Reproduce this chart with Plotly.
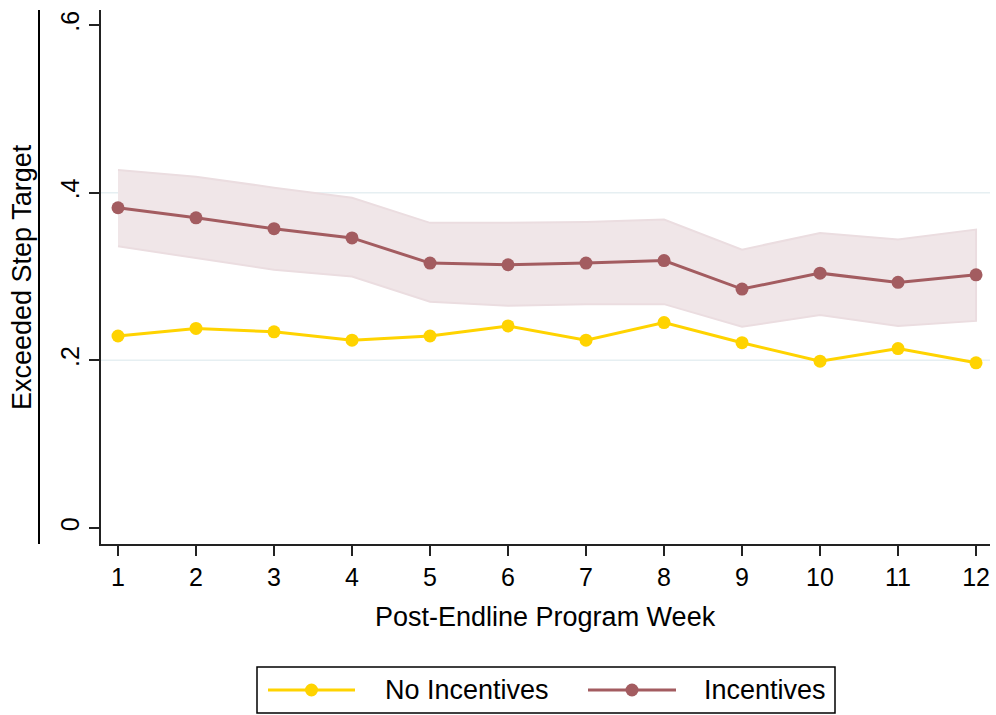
import plotly.graph_objects as go

# Weekly share of participants who exceeded their step target
weeks = list(range(1, 13))
no_incentives = [0.229, 0.238, 0.234, 0.224, 0.229, 0.241, 0.224, 0.245, 0.221, 0.199, 0.214, 0.197]
incentives = [0.382, 0.370, 0.357, 0.346, 0.316, 0.314, 0.316, 0.319, 0.285, 0.304, 0.293, 0.302]
inc_upper = [0.427, 0.419, 0.406, 0.394, 0.364, 0.364, 0.365, 0.368, 0.332, 0.352, 0.344, 0.356]
inc_lower = [0.336, 0.322, 0.308, 0.300, 0.270, 0.265, 0.267, 0.267, 0.240, 0.254, 0.241, 0.247]

y_ticks = [0, 0.2, 0.4, 0.6]
y_ticktext = ["0", ".2", ".4", ".6"]
series_names = ["No Incentives", "Incentives"]

YELLOW = "#ffd300"
MAROON = "#a35c60"
BAND_FILL = "#f0e6e8"
BAND_EDGE = "#ebdde0"
GRID = "#e6eff2"
FONT = "Liberation Sans, Arial, sans-serif"

W, H = 996, 715
L, R, T, B = 101, 6, 10, 171
PW, PH = W - L - R, H - T - B


def px(x):
    return (x - L) / PW


def py(y):
    return (H - B - y) / PH


fig = go.Figure()

# confidence band for the incentives group
fig.add_trace(go.Scatter(
    x=weeks + weeks[::-1],
    y=inc_upper + inc_lower[::-1],
    fill="toself", fillcolor=BAND_FILL,
    line=dict(color=BAND_EDGE, width=2),
    mode="lines", hoverinfo="skip", showlegend=False,
))

fig.add_trace(go.Scatter(
    x=weeks, y=no_incentives, name=series_names[0], mode="lines+markers",
    line=dict(color=YELLOW, width=3), marker=dict(color=YELLOW, size=13),
    showlegend=False,
))
fig.add_trace(go.Scatter(
    x=weeks, y=incentives, name=series_names[1], mode="lines+markers",
    line=dict(color=MAROON, width=3), marker=dict(color=MAROON, size=13),
    showlegend=False,
))

shapes = []
# horizontal grid lines at interior ticks
for gy in y_ticks[1:-1]:
    shapes.append(dict(type="line", xref="paper", yref="y", x0=0, x1=1, y0=gy, y1=gy,
                       line=dict(color=GRID, width=1.5), layer="below"))
# outer vertical rule left of the axis title region
shapes.append(dict(type="line", xref="paper", yref="paper", x0=px(39), x1=px(39), y0=0, y1=1,
                   line=dict(color="black", width=2)))

# legend box
shapes.append(dict(type="rect", xref="paper", yref="paper",
                   x0=px(257), x1=px(835), y0=py(713), y1=py(667),
                   line=dict(color="black", width=1.5), fillcolor="white"))
legend_items = [
    (series_names[0], YELLOW, 268, 355, 383),
    (series_names[1], MAROON, 588, 676, 702),
]
annotations = []
ly = py(690)
for name, col, x0, x1, tx in legend_items:
    shapes.append(dict(type="line", xref="paper", yref="paper", x0=px(x0), x1=px(x1), y0=ly, y1=ly,
                       line=dict(color=col, width=3)))
    cx = (x0 + x1) / 2
    shapes.append(dict(type="circle", xref="paper", yref="paper",
                       x0=px(cx - 6.5), x1=px(cx + 6.5), y0=py(690 + 6.5), y1=py(690 - 6.5),
                       line=dict(color=col, width=0), fillcolor=col))
    annotations.append(dict(text=name, xref="paper", yref="paper", x=px(tx), y=ly,
                            xanchor="left", yanchor="middle", showarrow=False,
                            font=dict(family=FONT, size=27, color="black")))

annotations.append(dict(text="Post-Endline Program Week", xref="paper", yref="paper",
                        x=0.5, y=py(617), xanchor="center", yanchor="middle", showarrow=False,
                        font=dict(family=FONT, size=27, color="black")))
annotations.append(dict(text="Exceeded Step Target", xref="paper", yref="paper",
                        x=px(22), y=0.5, xanchor="center", yanchor="middle", textangle=-90,
                        showarrow=False, font=dict(family=FONT, size=27, color="black")))

fig.update_layout(
    width=W, height=H,
    margin=dict(l=L, r=R, t=T, b=B, pad=0),
    paper_bgcolor="white", plot_bgcolor="white",
    font=dict(family=FONT, color="black"),
    shapes=shapes, annotations=annotations,
    showlegend=False,
)
fig.update_xaxes(
    range=[0.782, 12.179], tickmode="array", tickvals=weeks,
    ticks="outside", ticklen=10, tickwidth=1.5, tickcolor="#222",
    showline=True, linecolor="#222", linewidth=1.5,
    showgrid=False, zeroline=False,
    tickfont=dict(family=FONT, size=25, color="black"),
)
fig.update_yaxes(
    range=[-0.0191, 0.6179], tickmode="array", tickvals=y_ticks, ticktext=y_ticktext,
    ticks="outside", ticklen=10, tickwidth=1.5, tickcolor="#222", tickangle=-90,
    showline=True, linecolor="#222", linewidth=1.5,
    showgrid=False, zeroline=False,
    tickfont=dict(family=FONT, size=25, color="black"),
)

fig.write_html("out.html")
